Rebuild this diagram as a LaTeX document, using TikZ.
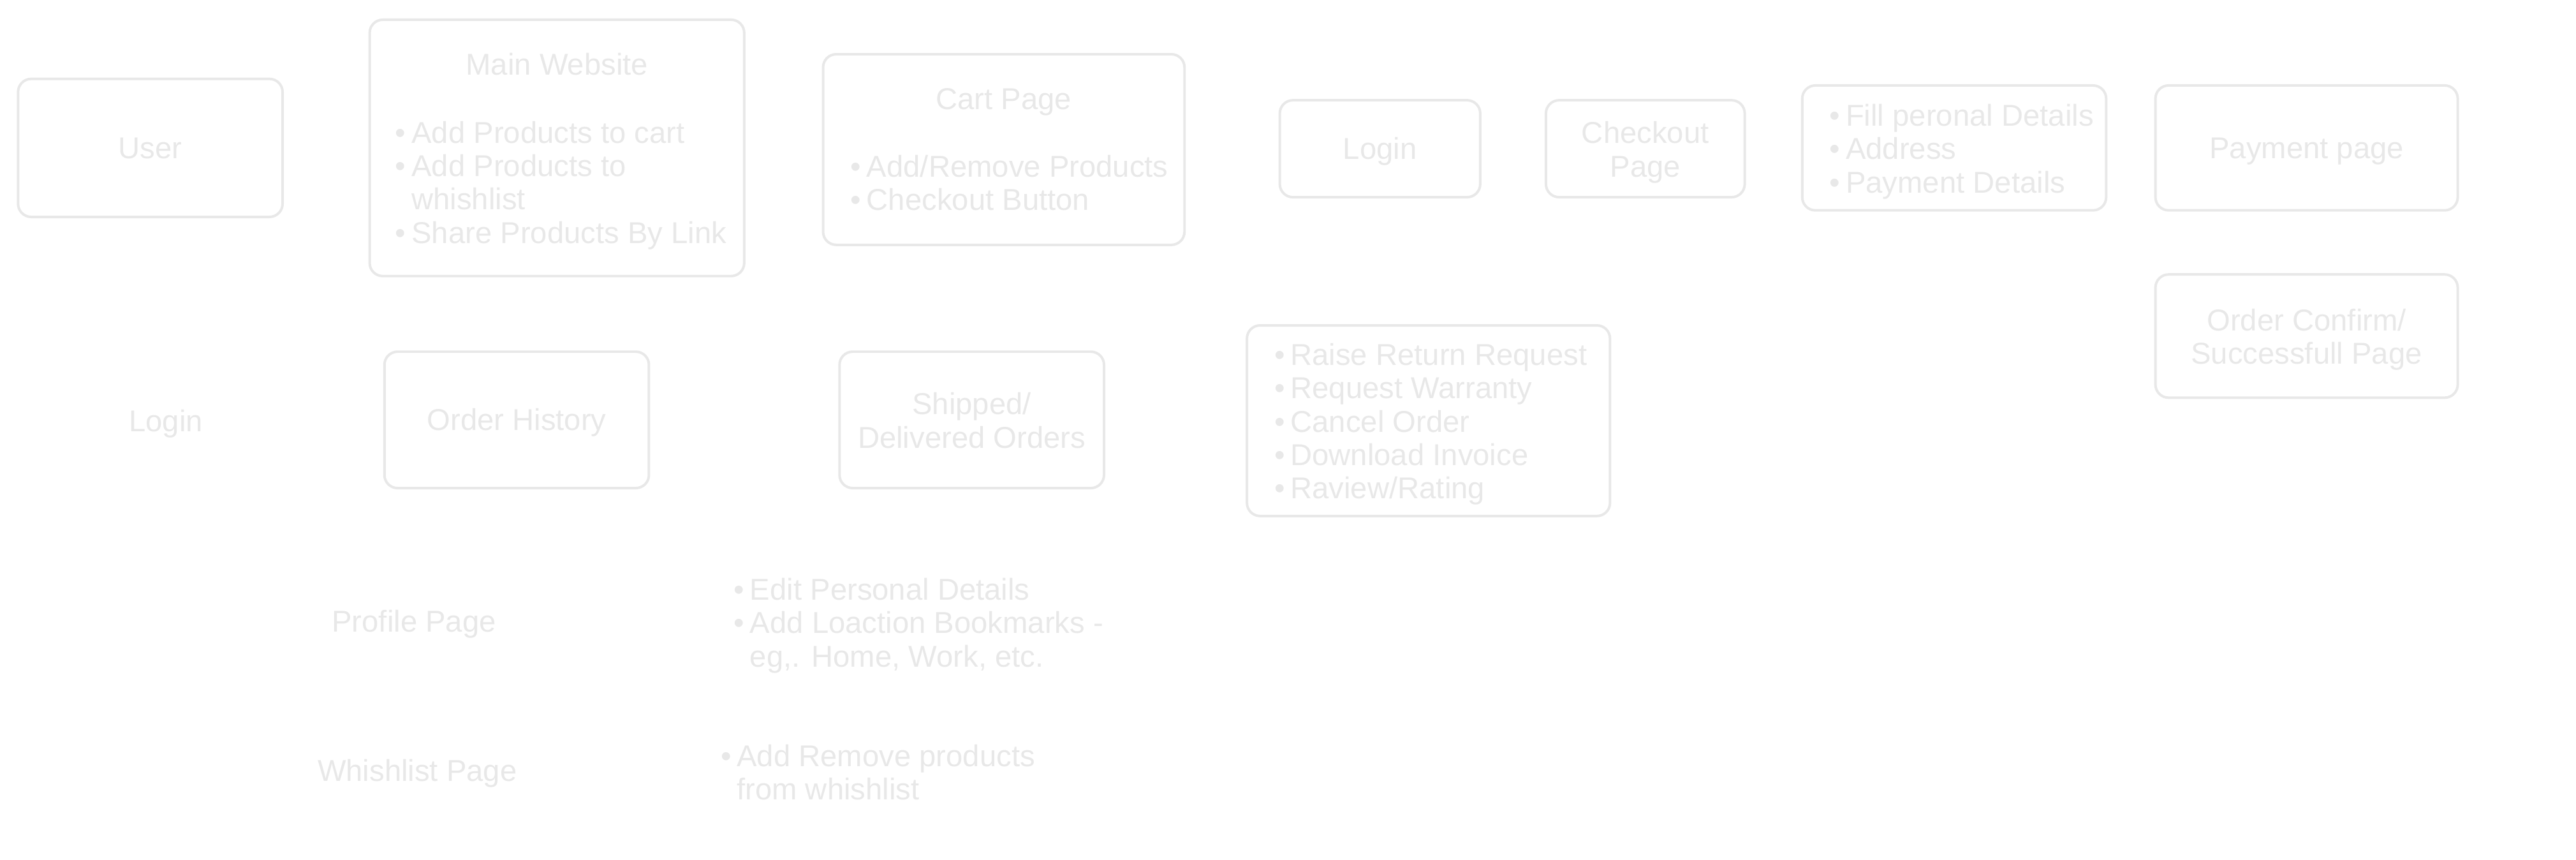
\documentclass[tikz,border=0pt]{standalone}
\usepackage{fontspec}
\setmainfont{Liberation Sans}
\definecolor{faint}{HTML}{E8E8E8}
\newcommand{\bul}{\makebox[7pt][l]{\textbullet}}
\newcommand{\cont}{\hspace*{7pt}}
\newcommand{\linestrut}{\rule[-3pt]{0pt}{15.3pt}}

\begin{document}
\begin{tikzpicture}[line cap=round,line join=round,x=1cm,y=1cm,
  box/.style={draw=faint,line width=1.1pt,rounded corners=0.2cm,inner sep=0pt},
  txt/.style={text=faint,align=center,inner sep=0pt,font=\fontsize{13.05}{14.45}\selectfont,
    execute at begin node=\linestrut,execute at end node=\linestrut},
  multi/.style={txt,yshift=-0.06cm},
  lst/.style={multi,align=left,anchor=west}]
\useasboundingbox (0,0) rectangle (39.2,-13.075);
\node[box,txt,minimum width=4.025cm,minimum height=2.1cm] (user) at (2.2875,-2.25) {User};
\node[box,minimum width=5.7cm,minimum height=3.9cm] (main) at (8.475,-2.25) {};
\node[txt] (maintitle) at (8.475,-0.975) {Main Website};
\node[lst] (mainlist) at (6.01,-2.7625) {\bul Add Products to cart\\ \bul Add Products to\\ \cont whishlist\\ \bul Share Products By Link};
\node[box,minimum width=5.5cm,minimum height=2.9cm] (cart) at (15.275,-2.275) {};
\node[txt] (carttitle) at (15.275,-1.5) {Cart Page};
\node[lst] (cartlist) at (12.935,-2.775) {\bul Add/Remove Products\\ \bul Checkout Button};
\node[box,txt,minimum width=3.05cm,minimum height=1.475cm] (login) at (21.0,-2.2625) {Login};
\node[box,minimum width=3.025cm,minimum height=1.475cm] (checkout) at (25.0375,-2.2625) {};
\node[multi] (checkouttext) at (checkout) {Checkout\\Page};
\node[box,minimum width=4.625cm,minimum height=1.9cm] (fill) at (29.7375,-2.25) {};
\node[lst] (filllist) at (27.835,-2.25) {\bul Fill peronal Details\\ \bul Address\\ \bul Payment Details};
\node[box,txt,minimum width=4.6cm,minimum height=1.9cm] (payment) at (35.1,-2.25) {Payment page};
\node[box,minimum width=4.6cm,minimum height=1.875cm] (confirm) at (35.1,-5.1125) {};
\node[multi] (confirmtext) at (confirm) {Order Confirm/\\Successfull Page};
\node[txt] (login2) at (2.525,-6.4) {Login};
\node[box,txt,minimum width=4.025cm,minimum height=2.075cm] (history) at (7.8625,-6.3875) {Order History};
\node[box,minimum width=4.025cm,minimum height=2.075cm] (shipped) at (14.7875,-6.3875) {};
\node[multi] (shippedtext) at (shipped) {Shipped/\\Delivered Orders};
\node[box,minimum width=5.525cm,minimum height=2.9cm] (orders) at (21.7375,-6.4) {};
\node[lst] (orderslist) at (19.385,-6.4) {\bul Raise Return Request\\ \bul Request Warranty\\ \bul Cancel Order\\ \bul Download Invoice\\ \bul Raview/Rating};
\node[txt] (profile) at (6.3,-9.45) {Profile Page};
\node[lst] (profilelist) at (11.16,-9.4625) {\bul Edit Personal Details\\ \bul Add Loaction Bookmarks -\\ \cont eg,. Home, Work, etc.};
\node[txt] (wish) at (6.35,-11.725) {Whishlist Page};
\node[lst] (wishlist) at (10.96,-11.7375) {\bul Add Remove products\\ \cont from whishlist};
\end{tikzpicture}
\end{document}
